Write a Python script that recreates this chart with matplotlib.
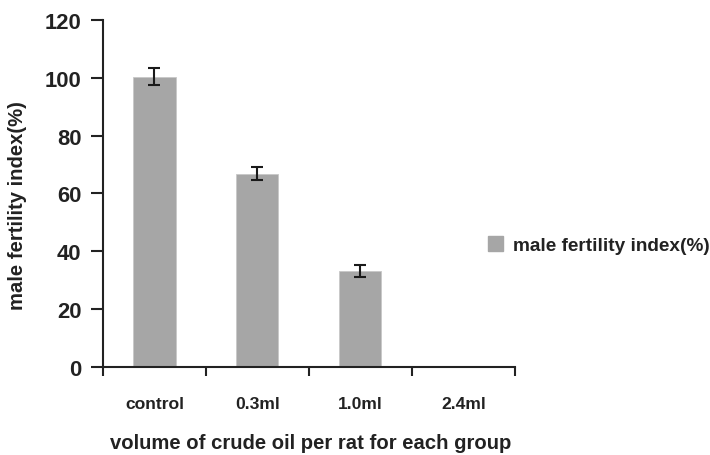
import numpy as np
import matplotlib
matplotlib.use("Agg")
import matplotlib.pyplot as plt
from matplotlib.patches import Patch

plt.rcParams['font.family'] = ['Liberation Sans', 'DejaVu Sans']
plt.rcParams['font.weight'] = 'bold'

groups = ['control', '0.3ml', '1.0ml', '2.4ml']
fertility = [100.4, 66.8, 33.2, 0]
errors = [3.0, 2.3, 2.2, 0]

fig = plt.figure(figsize=(7.1, 4.56), dpi=100)
ax = fig.add_axes([0.145, 0.193, 0.580, 0.761])

x = np.arange(len(groups))
ax.bar(x, fertility, width=0.41, color='#a6a6a6', edgecolor='#c8c8c8', linewidth=0.6, zorder=2)
ax.errorbar(x[:3], fertility[:3], yerr=errors[:3], fmt='none', ecolor='#1a1a1a',
            elinewidth=1.5, capsize=4, capthick=1.5, zorder=3)

ax.set_xlim(-0.5, len(groups) - 0.5)
ax.set_ylim(0, 120)
ax.set_yticks(range(0, 121, 20))
ax.set_xticks(x)
ax.set_xticklabels(groups, fontsize=12.6, fontweight='bold', color='#222222')
ax.set_xticks(np.arange(-0.5, len(groups), 1.0), minor=True)
ax.tick_params(axis='x', which='major', length=0, pad=21)
ax.tick_params(axis='x', which='minor', length=6.5, width=1.5, direction='out', color='#222222')
ax.tick_params(axis='y', length=8.5, width=1.5, direction='out', labelsize=15.8, color='#222222',
               labelcolor='#222222', pad=7)
for lab in ax.get_yticklabels():
    lab.set_fontweight('bold')

for s in ['top', 'right']:
    ax.spines[s].set_visible(False)
for s in ['left', 'bottom']:
    ax.spines[s].set_linewidth(1.5)
    ax.spines[s].set_color('#222222')

fig.text(0.024, 0.55, 'male fertility index(%)', rotation=90, ha='center', va='center',
         fontsize=14.6, fontweight='bold', color='#222222')
fig.text(0.437, 0.027, 'volume of crude oil per rat for each group', ha='center', va='center',
         fontsize=14.6, fontweight='bold', color='#222222')

leg = fig.legend(handles=[Patch(color='#a6a6a6', label='male fertility index(%)')],
                 loc='center left', bbox_to_anchor=(0.663, 0.46), frameon=False,
                 handlelength=0.8, handleheight=0.8, handletextpad=0.5,
                 prop={'size': 13.7, 'weight': 'bold'})
for t in leg.get_texts():
    t.set_color('#222222')

fig.savefig('out.png', dpi=100)
